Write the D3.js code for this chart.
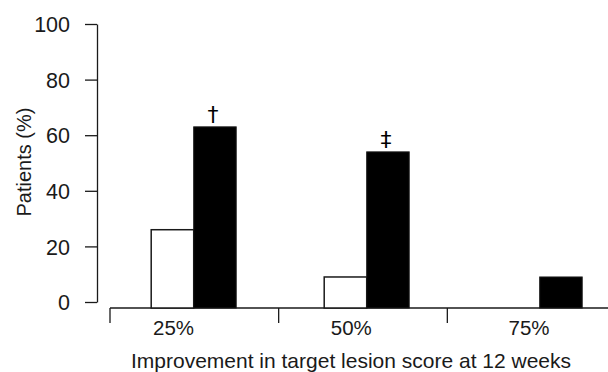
<!DOCTYPE html>
<html>
<head>
<meta charset="utf-8">
<script src="https://cdn.jsdelivr.net/npm/d3@7"></script>
<style>
  html, body { margin: 0; padding: 0; background: #fff; }
  svg { display: block; font-family: "Liberation Sans", Arial, sans-serif; }
</style>
</head>
<body>
<svg id="chart" width="608" height="372"></svg>
<script>
// ---- data ----
const categories = ["25%", "50%", "75%"];
const placebo = [26, 9, 0];
const treatment = [63, 54, 9];
const treatmentMarks = ["†", "‡", ""];
const yTicks = [0, 20, 40, 60, 80, 100];
const yTitle = "Patients (%)";
const xTitle = "Improvement in target lesion score at 12 weeks";

// ---- layout ----
const svg = d3.select("#chart");
const ink = "#1a1a1a";
const baseY = 308;

const y = d3.scaleLinear().domain([0, 100]).range([302, 24]);
const xSep = d3.scaleBand().domain(categories).range([110, 616]);
const xGroup = d3.scalePoint().domain(categories).range([193.7, 539.7]);
const xLabel = d3.scalePoint().domain(categories).range([173.5, 529]);
const barW = 42.5;

// y axis
const yAxis = d3.axisLeft(y).tickValues(yTicks).tickSize(12).tickPadding(15).tickSizeOuter(0);
const gy = svg.append("g").attr("transform", "translate(97,0)").call(yAxis);
gy.select(".domain").attr("stroke", ink).attr("stroke-width", 1.3);
gy.selectAll(".tick line").attr("stroke", ink).attr("stroke-width", 1.3);
gy.selectAll(".tick text").attr("fill", ink).style("font-size", "21.5px").attr("dy", "0.36em");

// x baseline
svg.append("line")
  .attr("x1", xSep.range()[0]).attr("x2", 608)
  .attr("y1", baseY).attr("y2", baseY)
  .attr("stroke", ink).attr("stroke-width", 1.3);

// separators
svg.selectAll("line.sep").data(categories).join("line")
  .attr("class", "sep")
  .attr("x1", d => xSep(d)).attr("x2", d => xSep(d))
  .attr("y1", baseY).attr("y2", baseY + 15)
  .attr("stroke", ink).attr("stroke-width", 1.3);

// category labels
svg.selectAll("text.cat").data(categories).join("text")
  .attr("class", "cat")
  .attr("x", d => xLabel(d)).attr("y", 335)
  .attr("text-anchor", "middle")
  .attr("fill", ink).style("font-size", "20.5px")
  .text(d => d);

// bars: placebo (white)
svg.selectAll("rect.pl").data(categories.map((c, i) => ({c, v: placebo[i]})).filter(d => d.v > 0)).join("rect")
  .attr("class", "pl")
  .attr("x", d => xGroup(d.c) - barW)
  .attr("y", d => y(d.v))
  .attr("width", barW)
  .attr("height", d => baseY - y(d.v))
  .attr("fill", "#fff").attr("stroke", ink).attr("stroke-width", 1.5);

// bars: treatment (black)
svg.selectAll("rect.tr").data(categories.map((c, i) => ({c, v: treatment[i], m: treatmentMarks[i]}))).join("rect")
  .attr("class", "tr")
  .attr("x", d => xGroup(d.c))
  .attr("y", d => y(d.v))
  .attr("width", barW)
  .attr("height", d => baseY - y(d.v))
  .attr("fill", "#000").attr("stroke", ink).attr("stroke-width", 1);

// significance marks
svg.selectAll("text.mark").data(categories.map((c, i) => ({c, v: treatment[i], m: treatmentMarks[i]})).filter(d => d.m)).join("text")
  .attr("class", "mark")
  .attr("x", d => xGroup(d.c) + barW / 2 - 2)
  .attr("y", d => y(d.v) - 5)
  .attr("text-anchor", "middle")
  .attr("fill", "#000")
  .style("font-family", "'DejaVu Sans', sans-serif")
  .style("font-size", "22px")
  .text(d => d.m);

// axis titles
svg.append("text")
  .attr("x", 351).attr("y", 368)
  .attr("text-anchor", "middle")
  .attr("fill", ink).style("font-size", "21px")
  .text(xTitle);

svg.append("text")
  .attr("transform", "translate(31,162) rotate(-90)")
  .attr("text-anchor", "middle")
  .attr("fill", ink).style("font-size", "20px")
  .text(yTitle);
</script>
</body>
</html>
